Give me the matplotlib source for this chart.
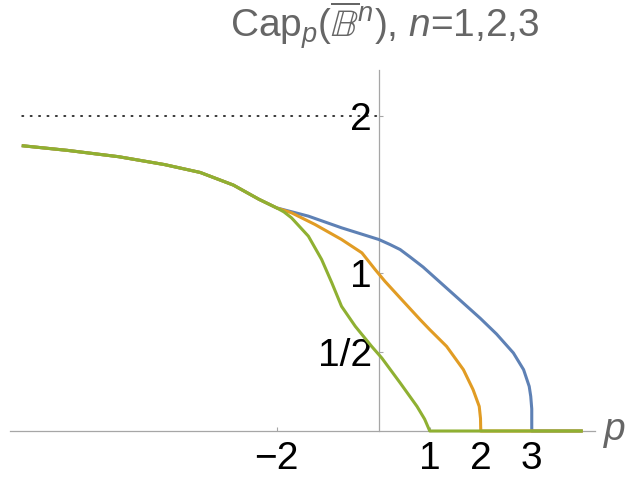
import matplotlib
matplotlib.use("Agg")
import matplotlib.pyplot as plt

# valores
p_left = [-7.0, -6.1, -5.1, -4.2, -3.5, -2.85, -2.35]
cap_left = [1.81, 1.78, 1.74, 1.69, 1.64, 1.56, 1.47]

p_n3 = [-2.0, -1.7, -1.38, -0.73, 0.0, 0.22, 0.42, 0.61, 0.87, 1.07, 1.56, 1.99, 2.31,
        2.64, 2.84, 2.95, 2.98, 3.0, 3.0, 4.0]
cap_n3 = [1.415, 1.39, 1.363, 1.289, 1.215, 1.183, 1.151, 1.105, 1.04, 0.982, 0.84, 0.715,
          0.615, 0.495, 0.389, 0.283, 0.22, 0.14, 0.0, 0.0]

p_n2 = [-2.0, -1.71, -1.25, -0.73, -0.33, -0.07, 0.12, 0.42, 0.81, 1.0, 1.33, 1.66, 1.85,
        1.97, 1.995, 2.0, 4.0]
cap_n2 = [1.415, 1.384, 1.310, 1.215, 1.130, 1.024, 0.950, 0.844, 0.707, 0.643, 0.537, 0.389,
          0.262, 0.156, 0.08, 0.0, 0.0]

p_n1 = [-2.0, -1.86, -1.71, -1.38, -1.12, -0.92, -0.73, -0.46, -0.14, 0.06, 0.42, 0.75,
        0.9, 1.0, 4.0]
cap_n1 = [1.415, 1.39, 1.352, 1.236, 1.088, 0.940, 0.791, 0.664, 0.537, 0.463, 0.305, 0.156,
          0.075, 0.0, 0.0]

asymptote = 2.0
xticks = [-2, 1, 2, 3]
xtick_labels = ['\u22122', '1', '2', '3']
yticks = [0.5, 1, 2]
ytick_labels = ["1/2", "1", "2"]

colors = {3: "#5E81B5", 2: "#E19C24", 1: "#8FB032"}

plt.rcParams['font.family'] = ['Liberation Sans', 'DejaVu Sans']
plt.rcParams['mathtext.fontset'] = 'custom'
plt.rcParams['mathtext.rm'] = 'Liberation Sans'
plt.rcParams['mathtext.it'] = 'Liberation Sans:italic'
plt.rcParams['mathtext.fallback'] = 'stix'

fig = plt.figure(figsize=(6.26, 4.8), dpi=100)
ax = fig.add_axes([10 / 626, 49 / 480, 585 / 626, 361 / 480])
ax.set_xlim(-7.23, 4.24)
ax.set_ylim(0, 2.29)

# linea punteada en y=2
ax.plot([p_left[0], 0], [asymptote, asymptote], color='black', lw=1.1,
        dashes=(1, 4.5), dash_capstyle='round')

for n, ps, cs in [(3, p_n3, cap_n3), (2, p_n2, cap_n2), (1, p_n1, cap_n1)]:
    ax.plot(p_left + ps, cap_left + cs, color=colors[n], lw=2.2, clip_on=False,
            solid_joinstyle='round', solid_capstyle='butt', zorder=3)

# ejes estilo Mathematica
for s in ['top', 'right']:
    ax.spines[s].set_visible(False)
ax.spines['left'].set_position(('data', 0))
ax.spines['bottom'].set_position(('data', 0))
for s in ['left', 'bottom']:
    ax.spines[s].set_color('#a6a6a6')
    ax.spines[s].set_linewidth(0.9)

ax.set_xticks(xticks)
ax.set_xticklabels(xtick_labels)
ax.set_yticks(yticks)
ax.set_yticklabels(ytick_labels)
ax.tick_params(axis='both', direction='in', length=3, width=0.8, color='#a6a6a6',
               labelsize=28, labelcolor='black')
ax.tick_params(axis='x', pad=7)
ax.tick_params(axis='y', pad=5)

ax.annotate('p', xy=(1.0, 0), xycoords='axes fraction', xytext=(6.5, -6.5),
            textcoords='offset points', fontsize=28, style='italic',
            color='#666666', va='baseline', ha='left', annotation_clip=False)

fig.text(385 / 626, 1 - 38 / 480, r'Cap$_p$($\overline{\mathbb{B}}^n$), $n$=1,2,3',
         ha='center', va='baseline', fontsize=28, color='#666666')

fig.savefig('out.png', dpi=100)
